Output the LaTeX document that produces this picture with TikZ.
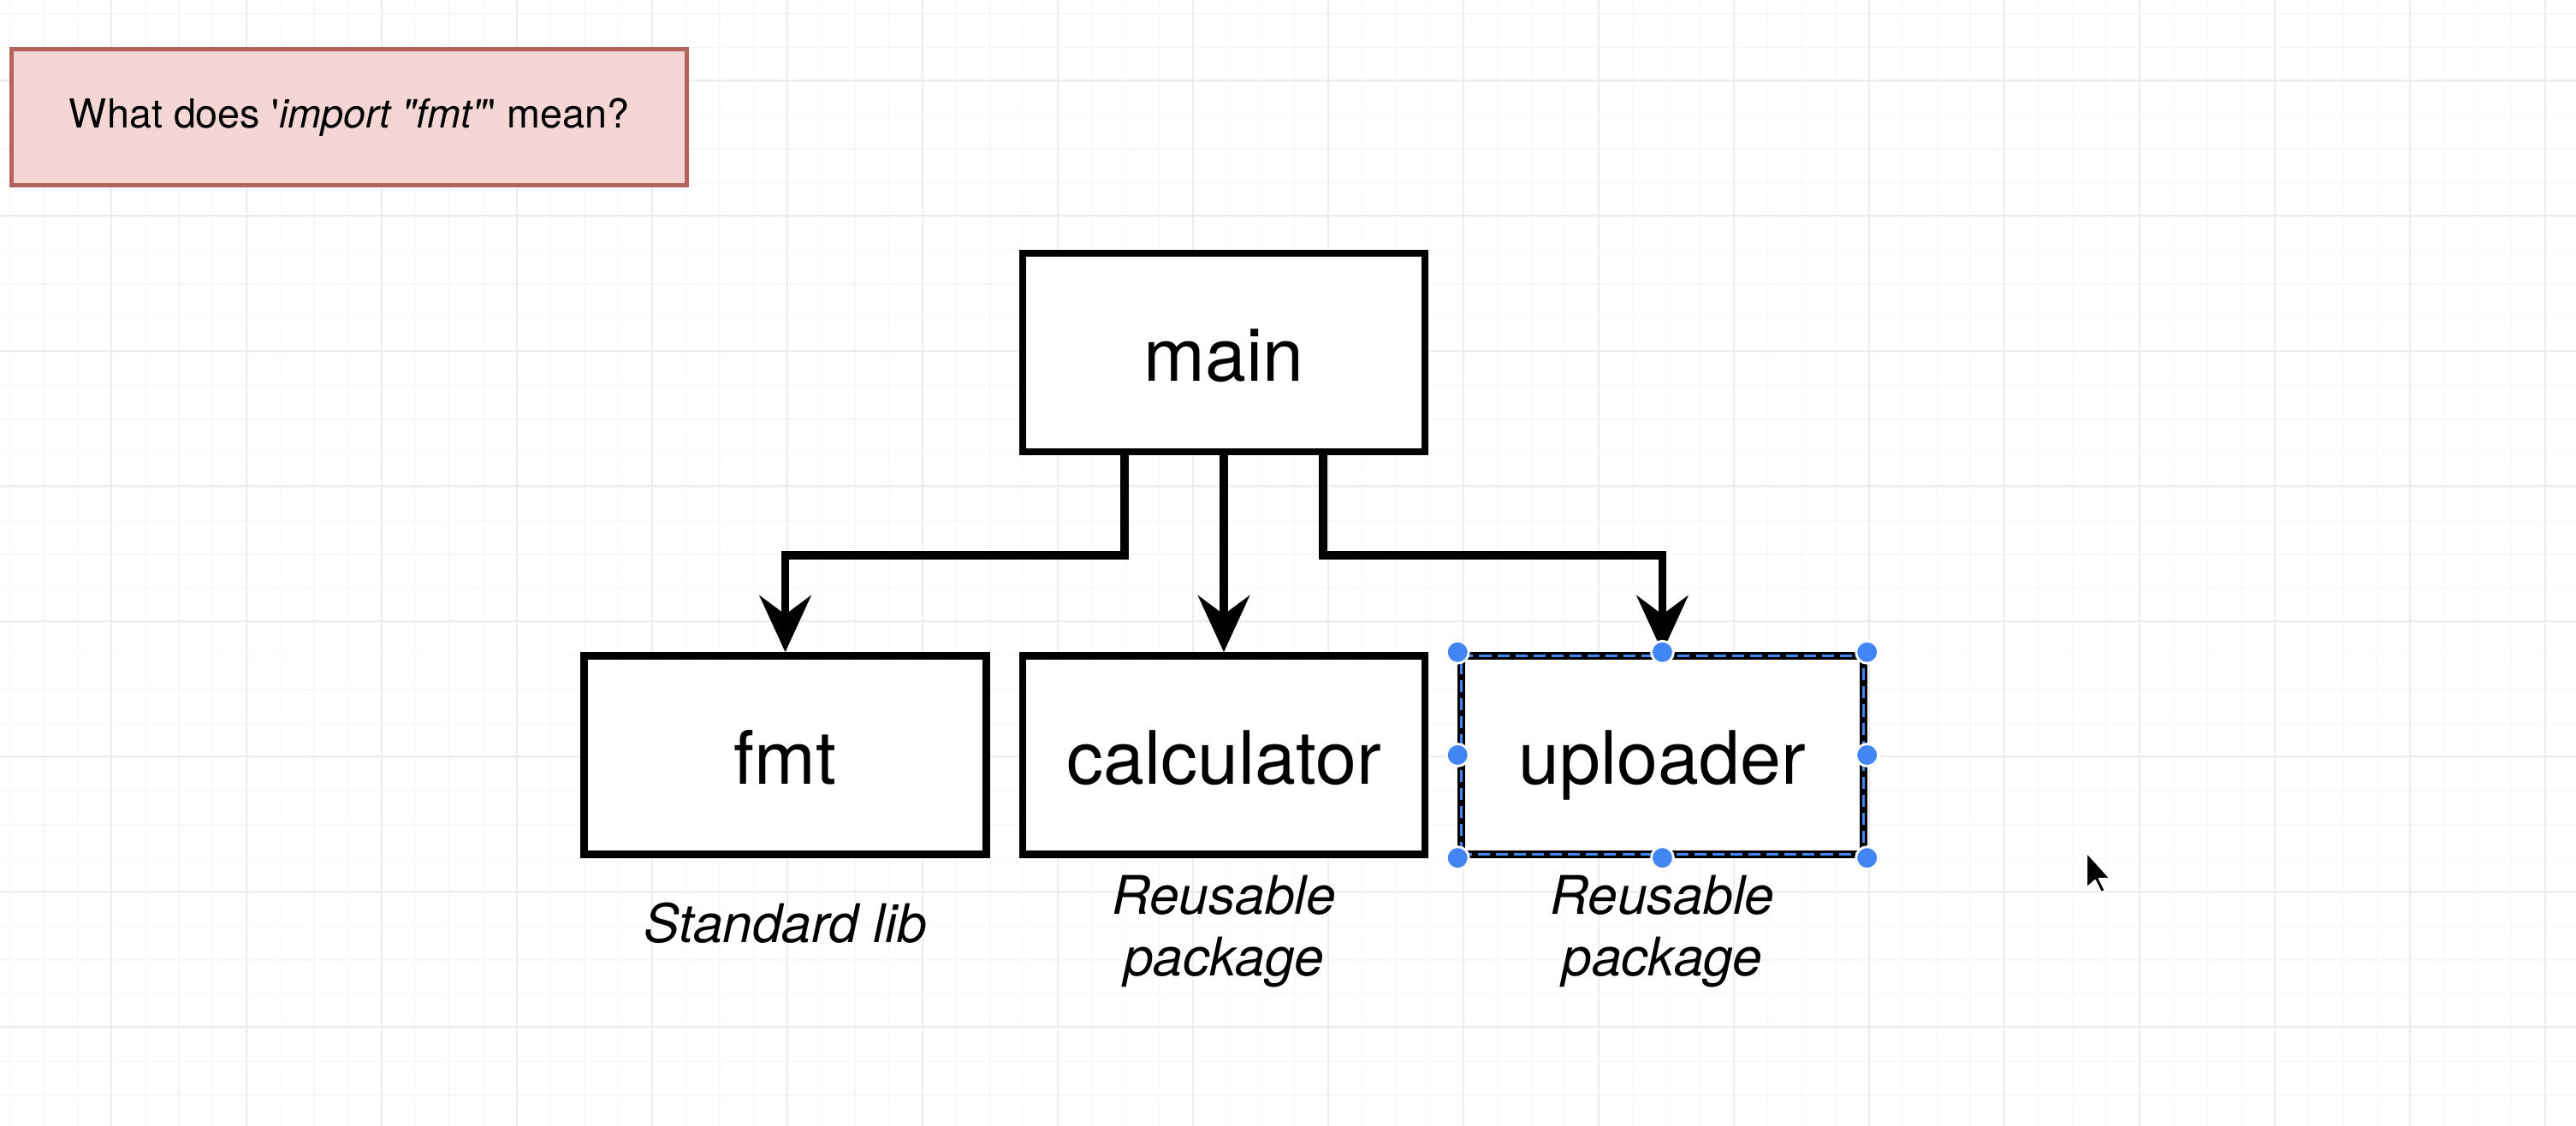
\documentclass[tikz,border=0pt]{standalone}
\usepackage{fontspec}
\setmainfont{TeX Gyre Heros}
\usetikzlibrary{arrows.meta,positioning,calc}
\definecolor{notefill}{RGB}{244,214,212}
\definecolor{notedraw}{RGB}{180,99,94}
\definecolor{selblue}{RGB}{66,133,244}
\definecolor{gridminor}{RGB}{247,247,247}
\definecolor{gridmajor}{RGB}{236,236,236}

\begin{document}
\begin{tikzpicture}[
    pkg/.style={rectangle, draw=black, fill=white, line width=2.4pt,
        minimum width=4.7cm, minimum height=2.32cm, align=center,
        text height=20.5pt, text depth=1.3pt,
        font=\fontsize{24.5}{29}\selectfont},
    note/.style={rectangle, draw=notedraw, fill=notefill, line width=1.6pt,
        minimum width=7.89cm, minimum height=1.59cm, font=\fontsize{13.3}{16}\selectfont},
    lbl/.style={align=center, font=\fontsize{17.7}{20.5}\selectfont\itshape},
    link/.style={-{Stealth[length=0.66cm, width=0.6cm, inset=0.22cm]}, line width=2.8pt, line join=miter},
    handle/.style={fill=selblue, draw=white, line width=0.8pt}
]
% canvas with the faint editor grid
\useasboundingbox (0,0) rectangle (30.1,13.16);
\fill[white] (0,0) rectangle (30.1,13.16);
\foreach \i in {0,...,75}
    \draw[gridminor, line width=0.3pt] ({0.115+0.395*\i},0) -- ++(0,13.16);
\foreach \j in {0,...,32}
    \draw[gridminor, line width=0.3pt] (0,{13.0-0.395*\j}) -- ++(30.1,0);
\foreach \i in {0,...,18}
    \draw[gridmajor, line width=0.5pt] ({1.30+1.58*\i},0) -- ++(0,13.16);
\foreach \j in {0,...,7}
    \draw[gridmajor, line width=0.5pt] (0,{12.22-1.58*\j}) -- ++(30.1,0);

\node[note] (question) at (4.08,11.79) {What does \textquotesingle\textit{import \textquotedbl fmt\textquotedbl}\textquotesingle{} mean?};

\node[pkg] (main) at (14.30,9.04) {main};
\node[pkg, below=2.3cm of main] (calc) {calculator};
\node[pkg, left=0.34cm of calc] (fmt) {fmt};
\node[pkg, right=0.34cm of calc] (upl) {uploader};

\draw[link] ([xshift=-1.16cm]main.south) -- ++(0,-1.17) -| (fmt.north);
\draw[link] (main) -- (calc);
\draw[link] ([xshift=1.16cm]main.south) -- ++(0,-1.17) -| (upl.north);

\node[lbl] (fmtnote) at ([yshift=-0.76cm]fmt.south) {Standard lib};
\node[lbl] (calcnote) at ([yshift=-0.86cm]calc.south) {Reusable\\package};
\node[lbl] (uplnote) at ([yshift=-0.86cm]upl.south) {Reusable\\package};

% selection frame on uploader
\draw[selblue, line width=0.8pt, dash pattern=on 4pt off 2pt]
    ([shift={(0.042,0.042)}]upl.south west) rectangle ([shift={(-0.042,-0.042)}]upl.north east);
\foreach \a in {north west,north,north east,east,south east,south,south west,west}
    \draw[handle] (upl.\a) circle (0.13);

% mouse pointer
\filldraw[fill=black, draw=white, line width=0.6pt, line join=round, shift={(24.38,3.2)}]
    (0,0) -- (0,-0.42) -- (0.1,-0.33) -- (0.17,-0.47) -- (0.22,-0.45) -- (0.15,-0.31) -- (0.28,-0.31) -- cycle;
\end{tikzpicture}
\end{document}
